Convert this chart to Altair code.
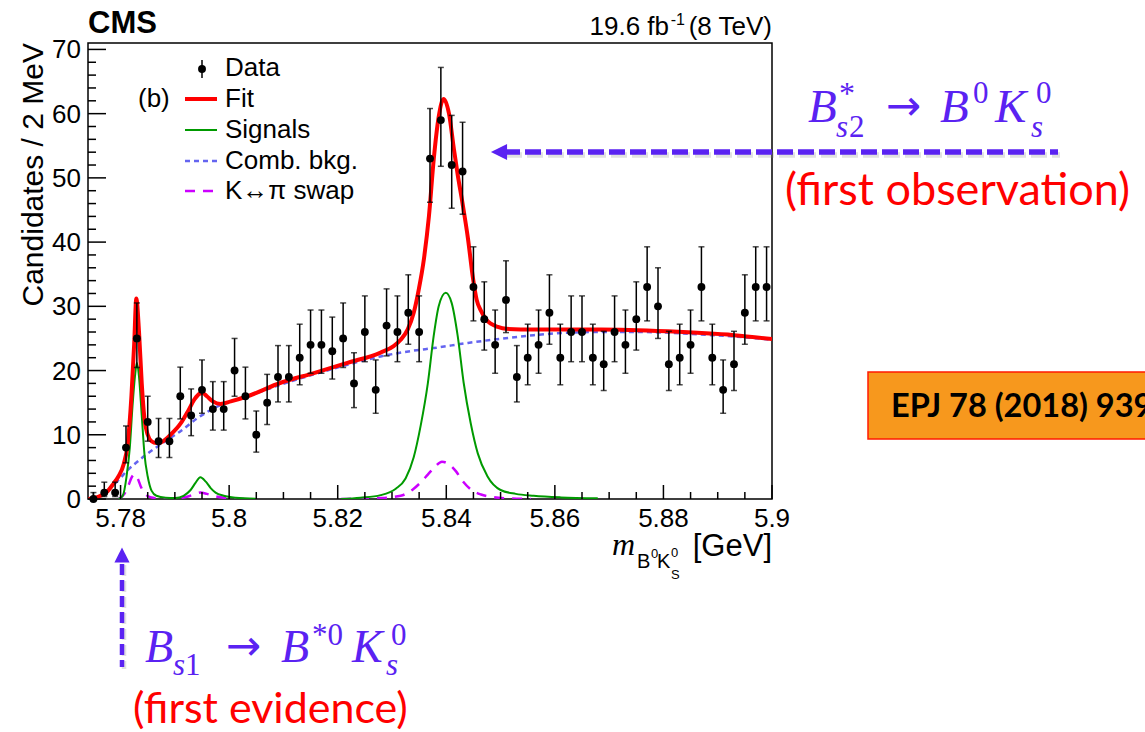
import altair as alt
import numpy as np
import pandas as pd

# ---------------------------------------------------------------- data
# B0 K0S invariant mass histogram, 2 MeV bins starting at 5.774 GeV
BIN_LO = 5.774
BIN_W = 0.002
COUNTS = [0, 1, 1, 8, 25, 12, 9, 9, 16, 13,
          17, 14, 14, 20, 16, 10, 15, 19, 19, 22,
          24, 24, 23, 25, 18, 26, 17, 27, 26, 29,
          26, 53, 59, 52, 51, 33, 28, 24, 31, 19,
          22, 24, 29, 22, 26, 26, 22, 21, 26, 24,
          28, 33, 30, 21, 22, 24, 33, 22, 17, 21,
          29, 33, 33]

# total fit
FIT_M = [5.7741, 5.7763, 5.7776, 5.7787, 5.7796, 5.7806, 5.7813, 5.7820, 5.7825,
         5.7829, 5.7834, 5.7839, 5.7844, 5.7850, 5.7857, 5.7866, 5.7874, 5.7892,
         5.7911, 5.7925, 5.7936, 5.7946, 5.7951, 5.7959, 5.7970, 5.7984, 5.8003,
         5.8034, 5.8095, 5.8156, 5.8218, 5.8279, 5.8303, 5.8316, 5.8329, 5.8340,
         5.8349, 5.8359, 5.8368, 5.8377, 5.8386, 5.8395, 5.8405, 5.8414, 5.8421,
         5.8430, 5.8440, 5.8449, 5.8456, 5.8464, 5.8473, 5.8482, 5.8495, 5.8510,
         5.8561, 5.8685, 5.8808, 5.8930, 5.9000]
FIT_V = [0.0, 0.5, 1.2, 2.4, 3.5, 5.5, 8.5, 16.0, 24.0,
         31.2, 26.0, 18.0, 12.5, 10.0, 9.0, 8.7, 8.8, 10.0,
         11.8, 13.8, 15.5, 16.4, 16.5, 16.0, 15.2, 14.8, 15.2,
         16.0, 18.1, 19.6, 21.2, 22.8, 23.8, 24.8, 26.4, 29.0,
         32.5, 37.5, 44.0, 53.0, 59.5, 62.3, 60.0, 54.5, 50.5,
         46.0, 40.5, 34.5, 31.0, 29.3, 28.0, 27.3, 26.8, 26.5,
         26.4, 26.4, 26.1, 25.5, 24.9]

# signal components (two separate pieces)
SIG1_M = [5.7796, 5.7804, 5.7811, 5.7817, 5.7822, 5.7827, 5.7830, 5.7834, 5.7839,
          5.7844, 5.7850, 5.7857, 5.7866, 5.7883, 5.7901, 5.7916, 5.7929, 5.7938,
          5.7947, 5.7957, 5.7966, 5.7975, 5.7990, 5.8012, 5.8049]
SIG1_V = [0.0, 0.5, 3.5, 8.0, 14.5, 19.5, 21.2, 19.0, 13.0,
          7.0, 3.5, 1.3, 0.5, 0.2, 0.15, 0.5, 1.4, 2.5,
          3.4, 2.7, 1.7, 1.0, 0.5, 0.2, 0.05]
SIG2_M = [5.8206, 5.8242, 5.8279, 5.8307, 5.8325, 5.8340, 5.8353, 5.8366, 5.8377,
          5.8386, 5.8399, 5.8410, 5.8421, 5.8432, 5.8445, 5.8458, 5.8476, 5.8500,
          5.8528, 5.8561, 5.8611, 5.8679]
SIG2_V = [0.0, 0.2, 0.6, 1.6, 3.2, 6.5, 11.5, 18.0, 25.5,
          30.0, 32.1, 30.5, 25.4, 18.1, 11.8, 7.1, 3.5, 1.4,
          0.8, 0.5, 0.25, 0.1]

# K <-> pi swap components
SWAP1_M = [5.7796, 5.7807, 5.7815, 5.7820, 5.7826, 5.7831, 5.7837, 5.7844, 5.7855,
           5.7870, 5.7892, 5.7920, 5.7938, 5.7947, 5.7959, 5.7975, 5.7994, 5.8030]
SWAP1_V = [0.0, 0.8, 2.2, 3.3, 3.8, 3.3, 2.0, 0.9, 0.3,
           0.1, 0.05, 0.3, 0.8, 1.0, 0.8, 0.4, 0.15, 0.0]
SWAP2_M = [5.8206, 5.8279, 5.8316, 5.8340, 5.8353, 5.8366, 5.8379, 5.8392, 5.8405,
           5.8418, 5.8430, 5.8445, 5.8464, 5.8482, 5.8510, 5.8556]
SWAP2_V = [0.0, 0.15, 0.5, 1.6, 2.6, 3.8, 5.0, 5.8, 5.4,
           4.3, 2.8, 1.5, 0.7, 0.35, 0.1, 0.0]

# combinatorial background
BKG_M = [5.7750, 5.7763, 5.7776, 5.7787, 5.7800, 5.7813, 5.7828, 5.7850, 5.7879,
         5.7911, 5.7942, 5.7971, 5.8034, 5.8095, 5.8156, 5.8218, 5.8279, 5.8340,
         5.8377, 5.8440, 5.8500, 5.8561, 5.8624, 5.8685, 5.8746, 5.8808, 5.8869,
         5.8930, 5.9000]
BKG_V = [0.0, 0.6, 1.4, 2.2, 3.3, 4.5, 5.6, 7.1, 8.8,
         10.6, 12.6, 14.1, 16.0, 17.8, 19.4, 20.9, 22.2, 23.1,
         23.5, 24.3, 24.95, 25.5, 25.9, 26.0, 26.0, 25.9, 25.6,
         25.3, 24.8]

X_TICKS = [5.78, 5.80, 5.82, 5.84, 5.86, 5.88, 5.90]
X_LABELS = ["5.78", "5.8", "5.82", "5.84", "5.86", "5.88", "5.9"]
Y_TICKS = [0, 10, 20, 30, 40, 50, 60, 70]
Y_LABELS = ["0", "10", "20", "30", "40", "50", "60", "70"]
LEGEND = ["Data", "Fit", "Signals", "Comb. bkg.", "K\u2194\u03c0 swap"]

# ---------------------------------------------------------------- layout
X0, Y0 = 88, 43            # top-left corner of the frame on the page
W, H = 684, 456
X_DOMAIN = [5.774, 5.9]
Y_DOMAIN = [0, 71]

RED = "#ff0000"
GREEN = "#009a00"
BLUE = "#6464f0"
MAGENTA = "#cc00ff"
PURPLE = "#5a22f2"
SANS = "Liberation Sans"
SERIF = "Liberation Serif"
SLIDE = "Lato"

xs = alt.Scale(domain=X_DOMAIN, nice=False, zero=False)
ys = alt.Scale(domain=Y_DOMAIN, nice=False)
ONE = pd.DataFrame({"k": [0]})

# ---------------------------------------------------------------- histogram
n = np.array(COUNTS, dtype=float)
half = np.sqrt(n + 0.25)
hist = pd.DataFrame({
    "m": BIN_LO + BIN_W * (np.arange(len(COUNTS)) + 0.5),
    "n": n,
    "lo": n - half + 0.5,
    "hi": n + half + 0.5,
})


def X(field):
    return alt.X(field, scale=xs, axis=None)


def Y(field):
    return alt.Y(field, scale=ys, axis=None)


def curve(ms, vs, color, width, dash=None):
    df = pd.DataFrame({"m": ms, "v": vs})
    kw = dict(color=color, strokeWidth=width, interpolate="monotone", clip=True)
    if dash:
        kw["strokeDash"] = dash
    return alt.Chart(df).mark_line(**kw).encode(x=X("m:Q"), y=Y("v:Q"))


bars = alt.Chart(hist).mark_rule(color="black", strokeWidth=1.5).encode(
    x=X("m:Q"), y=Y("lo:Q"), y2="hi:Q")
cap_hi = alt.Chart(hist).mark_tick(color="black", thickness=1.5, size=6,
                                   orient="horizontal").encode(x=X("m:Q"), y=Y("hi:Q"))
cap_lo = alt.Chart(hist).mark_tick(color="black", thickness=1.5, size=6,
                                   orient="horizontal").encode(x=X("m:Q"), y=Y("lo:Q"))
dots = alt.Chart(hist).mark_circle(color="black", opacity=1, size=62).encode(
    x=X("m:Q"), y=Y("n:Q"))

# ---------------------------------------------------------------- inner ticks and labels
x_minor = [round(v, 3) for v in np.arange(5.775, 5.8999, 0.005)
           if round(v, 3) not in [round(t, 3) for t in X_TICKS]]
y_minor = [v for v in range(0, 71, 2) if v % 10]


def xticks(vals, length):
    return alt.Chart(pd.DataFrame({"t": vals})).mark_rule(color="black", strokeWidth=1.5).encode(
        x=X("t:Q"), y=alt.value(H), y2=alt.value(H - length))


def yticks(vals, length):
    return alt.Chart(pd.DataFrame({"t": vals})).mark_rule(color="black", strokeWidth=1.5).encode(
        y=Y("t:Q"), x=alt.value(0), x2=alt.value(length))


x_labels = alt.Chart(pd.DataFrame({"t": X_TICKS, "s": X_LABELS})).mark_text(
    font=SANS, fontSize=26, color="black", align="center", baseline="alphabetic"
).encode(x=X("t:Q"), y=alt.value(527 - Y0), text="s:N")

y_labels = alt.Chart(pd.DataFrame({"t": Y_TICKS, "s": Y_LABELS})).mark_text(
    font=SANS, fontSize=26, color="black", align="right", baseline="middle", dy=1
).encode(y=Y("t:Q"), x=alt.value(81 - X0), text="s:N")


# ---------------------------------------------------------------- page-positioned helpers
def text(x, y, s, size, color="black", font=SANS, style="normal", weight="normal",
         align="left", baseline="alphabetic", angle=0):
    return alt.Chart(ONE).mark_text(
        text=s, fontSize=size, font=font, fontStyle=style, fontWeight=weight,
        align=align, baseline=baseline, color=color, angle=angle,
    ).encode(x=alt.value(x - X0), y=alt.value(y - Y0))


def hline(x1, x2, y, color, width, dash=None, opacity=1.0):
    kw = dict(color=color, strokeWidth=width, opacity=opacity)
    if dash:
        kw["strokeDash"] = dash
    return alt.Chart(ONE).mark_rule(**kw).encode(
        x=alt.value(x1 - X0), x2=alt.value(x2 - X0), y=alt.value(y - Y0))


def vline(x, y1, y2, color, width, dash=None, opacity=1.0):
    kw = dict(color=color, strokeWidth=width, opacity=opacity)
    if dash:
        kw["strokeDash"] = dash
    return alt.Chart(ONE).mark_rule(**kw).encode(
        x=alt.value(x - X0), y=alt.value(y1 - Y0), y2=alt.value(y2 - Y0))


def head(x, y, path, size, color, opacity=1.0):
    return alt.Chart(ONE).mark_point(shape=path, filled=True, size=size, color=color,
                                     opacity=opacity, strokeWidth=0).encode(
        x=alt.value(x - X0), y=alt.value(y - Y0))


LEFT_HEAD = "M -1 0 L 1 -1 L 1 1 Z"
UP_HEAD = "M 0 -1 L 1 1 L -1 1 Z"

# ---------------------------------------------------------------- legend
leg_y = [68, 99, 130, 161, 191]
legend = [
    vline(202, 60, 78, "black", 1.5),
    alt.Chart(ONE).mark_circle(color="black", opacity=1, size=62).encode(
        x=alt.value(202 - X0), y=alt.value(69 - Y0)),
    hline(185, 217, leg_y[1], RED, 4),
    hline(185, 217, leg_y[2], GREEN, 2),
    hline(185, 217, leg_y[3], BLUE, 2.5, [5, 4]),
    hline(185, 217, leg_y[4], MAGENTA, 2.5, [10, 8]),
    text(138, 99, "(b)", 26, baseline="middle"),
]
for lab, yy in zip(LEGEND, leg_y):
    legend.append(text(225, yy, lab, 26, baseline="middle"))

# ---------------------------------------------------------------- headers and axis titles
headers = [
    text(88, 33, "CMS", 31, weight="bold"),
    text(772, 35, "(8 TeV)", 26, align="right"),
    text(685, 25, "-1", 16, align="right"),
    text(669, 35, "19.6 fb", 26, align="right"),
    text(34, 43, "Candidates / 2 MeV", 30, align="right", baseline="middle", angle=270),
    text(612, 555, "m", 32, font=SERIF, style="italic"),
    text(637, 568, "B", 20),
    text(651, 558, "0", 13),
    text(657, 568, "K", 20),
    text(671, 557, "0", 13),
    text(671, 579, "S", 13),
    text(772, 556, "[GeV]", 31, align="right"),
]

# ---------------------------------------------------------------- annotations
annot = [
    # B*s2 -> B0 K0s
    hline(506, 1060, 155, "#888888", 5.5, [16, 5], opacity=0.25),
    hline(504, 1058, 152, PURPLE, 5.5, [16, 5]),
    head(499, 152, LEFT_HEAD, 260, PURPLE),
    text(808, 122, "B", 47, PURPLE, SERIF, "italic"),
    text(839, 104, "*", 32, PURPLE, SERIF),
    text(836, 137, "s", 31, PURPLE, SERIF, "italic"),
    text(849, 137, "2", 31, PURPLE, SERIF),
    text(886, 120, "\u2192", 42, PURPLE, "DejaVu Sans"),
    text(940, 122, "B", 47, PURPLE, SERIF, "italic"),
    text(973, 103, "0", 31, PURPLE, SERIF),
    text(995, 122, "K", 47, PURPLE, SERIF, "italic"),
    text(1036, 103, "0", 31, PURPLE, SERIF),
    text(1031, 137, "s", 31, PURPLE, SERIF, "italic"),
    text(785, 205, "(first observation)", 45, RED, SLIDE),
    # Bs1 -> B*0 K0s
    vline(124, 565, 669, "#888888", 4.5, [11, 5], opacity=0.25),
    vline(122, 564, 667, PURPLE, 4.5, [11, 5]),
    head(122, 555, UP_HEAD, 230, PURPLE),
    text(145, 662, "B", 46, PURPLE, SERIF, "italic"),
    text(173, 675, "s", 31, PURPLE, SERIF, "italic"),
    text(185, 675, "1", 31, PURPLE, SERIF),
    text(226, 660, "\u2192", 42, PURPLE, "DejaVu Sans"),
    text(281, 662, "B", 46, PURPLE, SERIF, "italic"),
    text(312, 645, "*0", 31, PURPLE, SERIF),
    text(352, 662, "K", 46, PURPLE, SERIF, "italic"),
    text(391, 645, "0", 31, PURPLE, SERIF),
    text(386, 675, "s", 31, PURPLE, SERIF, "italic"),
    text(133, 723, "(first evidence)", 43, RED, SLIDE),
    # journal reference box
    alt.Chart(ONE).mark_rect(fill="#f7981d", stroke="#ff1a00", strokeWidth=1.5).encode(
        x=alt.value(868 - X0), x2=alt.value(1160 - X0),
        y=alt.value(372 - Y0), y2=alt.value(439 - Y0)),
    text(891, 417, "EPJ 78 (2018) 939", 32.5, "black", SLIDE, weight="bold"),
]

layers = [
    curve(BKG_M, BKG_V, BLUE, 2.5, [5, 4]),
    curve(SWAP1_M, SWAP1_V, MAGENTA, 2.5, [10, 8]),
    curve(SWAP2_M, SWAP2_V, MAGENTA, 2.5, [10, 8]),
    curve(SIG1_M, SIG1_V, GREEN, 2),
    curve(SIG2_M, SIG2_V, GREEN, 2),
    curve(FIT_M, FIT_V, RED, 4),
    bars, cap_hi, cap_lo, dots,
    xticks(X_TICKS, 14), xticks(x_minor, 7),
    yticks(Y_TICKS, 18), yticks(y_minor, 8),
    x_labels, y_labels,
] + legend + headers + annot

chart = alt.layer(*layers).properties(
    width=W, height=H,
    autosize=alt.AutoSizeParams(type="none"),
    padding={"left": X0, "top": Y0, "right": 1145 - X0 - W, "bottom": 732 - Y0 - H},
    background="white",
).configure_view(stroke="black", strokeWidth=1.5)

chart.save("out.html", embed_options={"renderer": "svg", "actions": False})
